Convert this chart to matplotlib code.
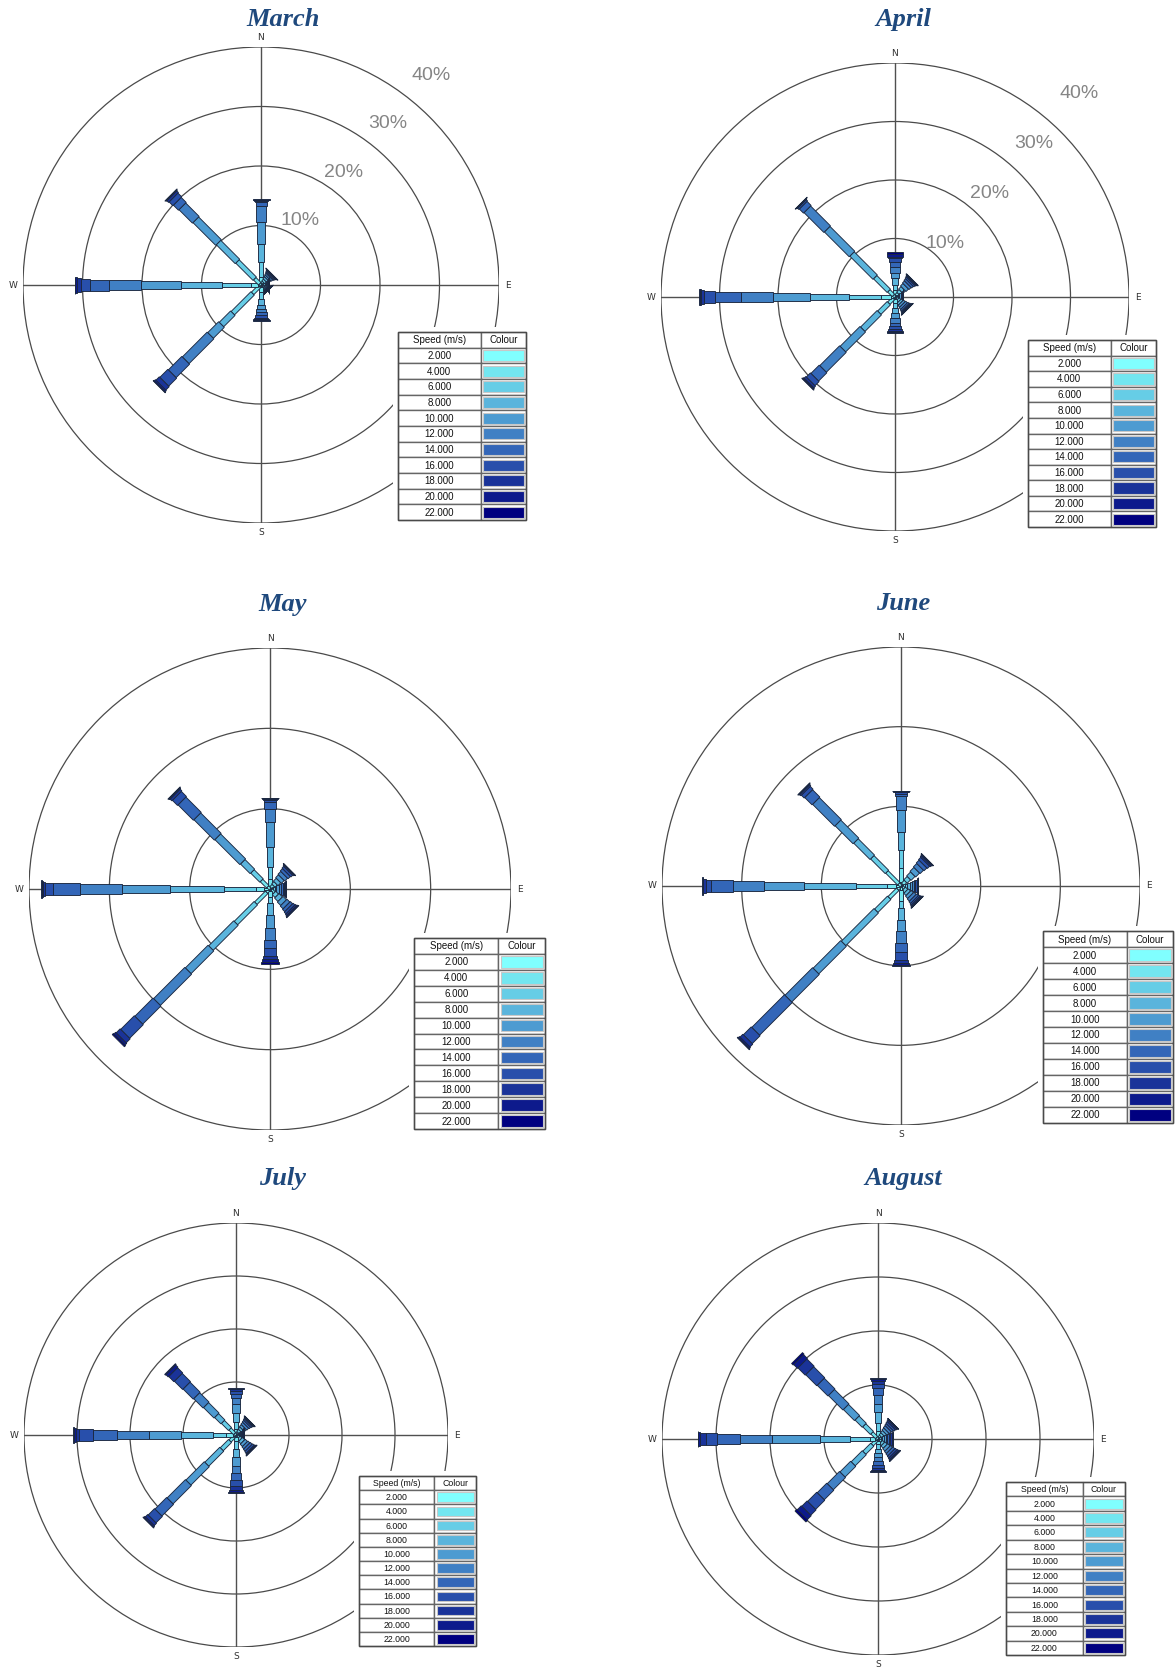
import numpy as np
import matplotlib.pyplot as plt
from matplotlib.patches import Polygon, Rectangle, Circle

FIG_W, FIG_H = 1175, 1668

# compass order used for every month below
DIRECTIONS = ['N', 'NE', 'E', 'SE', 'S', 'SW', 'W', 'NW']
DIR_ANGLES = [90, 45, 0, -45, -90, -135, 180, 135]

SPEED_LABELS = ['2.000', '4.000', '6.000', '8.000', '10.000', '12.000',
                '14.000', '16.000', '18.000', '20.000', '22.000']
COLOURS = ['#80ffff', '#73e6f0', '#66cde6', '#5ab4dc', '#4d9bd1', '#4080c4',
           '#3366b8', '#284fab', '#1a3399', '#0d1a8c', '#000080']

# bar width of each speed class, as a fraction of the outer ring radius
BAR_WIDTH = np.array([2.5, 3.5, 4.8, 6.3, 8, 9.5, 11, 12.5, 14, 15.5, 17]) / 238.0

# cumulative frequency (%) per speed class, one list per direction (N..NW)
march = [
    [0.4, 1.3, 3.8, 6.9, 10.6, 13.2, 13.9, 14.2, 14.3, 14.35, 14.4],
    [0.2, 0.6, 1.0, 1.4, 1.7, 2.0, 2.2, 2.4, 2.5, 2.55, 2.6],
    [0.2, 0.4, 0.6, 0.8, 1.0, 1.1, 1.2, 1.25, 1.3, 1.33, 1.35],
    [0.2, 0.4, 0.6, 0.8, 1.0, 1.15, 1.25, 1.35, 1.4, 1.45, 1.5],
    [0.3, 1.2, 2.4, 3.4, 4.0, 4.6, 5.1, 5.5, 5.75, 5.9, 6.0],
    [0.4, 2.0, 6.7, 9.4, 12.0, 17.9, 21.1, 23.0, 23.8, 24.1, 24.2],
    [0.5, 1.7, 6.5, 13.4, 20.2, 25.6, 28.7, 30.3, 31.0, 31.2, 31.3],
    [0.3, 1.5, 5.6, 10.1, 15.5, 18.7, 19.9, 20.8, 21.2, 21.35, 21.4],
]
april = [
    [0.3, 1.2, 2.1, 3.2, 4.1, 5.2, 6.0, 6.6, 6.9, 7.4, 7.7],
    [0.3, 0.8, 1.4, 2.0, 2.6, 3.1, 3.5, 3.8, 4.0, 4.1, 4.2],
    [0.15, 0.35, 0.55, 0.75, 0.95, 1.1, 1.2, 1.3, 1.35, 1.4, 1.45],
    [0.2, 0.6, 1.0, 1.4, 1.8, 2.2, 2.5, 2.7, 2.85, 2.95, 3.0],
    [0.3, 1.0, 1.8, 2.7, 3.6, 4.4, 5.0, 5.5, 5.8, 6.0, 6.1],
    [0.4, 1.5, 3.8, 7.8, 12.6, 17.4, 19.4, 20.4, 20.8, 21.0, 21.1],
    [0.6, 2.4, 7.8, 14.5, 20.8, 26.4, 30.7, 32.7, 33.2, 33.4, 33.5],
    [0.4, 1.5, 4.8, 10.4, 16.4, 21.2, 22.2, 22.5, 22.6, 22.65, 22.7],
]
may = [
    [0.3, 1.2, 2.7, 5.2, 8.3, 10.0, 10.8, 11.1, 11.2, 11.3, 11.35],
    [0.2, 0.6, 1.0, 1.5, 2.0, 2.5, 2.9, 3.2, 3.35, 3.4, 3.45],
    [0.2, 0.4, 0.6, 0.8, 1.1, 1.4, 1.6, 1.8, 1.9, 1.95, 2.0],
    [0.2, 0.7, 1.2, 1.8, 2.4, 2.9, 3.3, 3.6, 3.8, 3.95, 4.0],
    [0.3, 1.0, 1.7, 3.2, 4.8, 6.4, 7.3, 8.3, 8.75, 9.1, 9.3],
    [0.6, 2.5, 6.0, 10.4, 14.4, 19.9, 23.1, 25.5, 26.2, 26.5, 26.7],
    [0.8, 1.75, 5.7, 12.4, 18.4, 23.6, 27.0, 28.0, 28.3, 28.4, 28.5],
    [0.4, 1.5, 3.1, 4.8, 9.2, 12.8, 15.5, 16.4, 16.7, 16.85, 16.9],
]
june = [
    [0.5, 2.2, 4.5, 6.8, 9.5, 11.3, 11.6, 11.8, 11.85, 11.9, 11.95],
    [0.3, 0.8, 1.4, 2.1, 2.8, 3.4, 3.9, 4.3, 4.5, 4.65, 4.7],
    [0.2, 0.5, 0.8, 1.1, 1.4, 1.6, 1.8, 1.95, 2.05, 2.1, 2.15],
    [0.2, 0.5, 0.9, 1.3, 1.7, 2.1, 2.4, 2.6, 2.75, 2.85, 2.9],
    [0.5, 1.9, 2.8, 4.3, 5.6, 7.2, 8.3, 9.3, 9.7, 9.9, 10.0],
    [0.6, 2.1, 4.4, 10.2, 15.1, 20.0, 25.8, 27.2, 27.7, 27.9, 28.0],
    [0.6, 1.7, 5.6, 12.2, 17.2, 21.1, 23.8, 24.5, 24.8, 24.9, 25.0],
    [0.4, 2.5, 5.1, 8.0, 11.2, 15.1, 16.4, 16.9, 17.1, 17.2, 17.25],
]
july = [
    [0.3, 1.2, 2.5, 4.2, 5.8, 7.0, 7.8, 8.3, 8.6, 8.75, 8.8],
    [0.2, 0.6, 1.1, 1.6, 2.1, 2.6, 3.0, 3.3, 3.5, 3.6, 3.7],
    [0.1, 0.3, 0.5, 0.7, 0.9, 1.1, 1.2, 1.3, 1.4, 1.45, 1.5],
    [0.2, 0.7, 1.2, 1.8, 2.4, 2.9, 3.4, 3.8, 4.0, 4.1, 4.2],
    [0.3, 1.2, 2.6, 4.2, 5.8, 7.2, 8.4, 9.6, 10.4, 10.8, 11.0],
    [0.5, 1.6, 3.8, 7.8, 12.7, 17.6, 20.7, 22.4, 23.0, 23.3, 23.4],
    [0.6, 1.8, 4.3, 10.3, 16.5, 22.4, 26.9, 29.6, 30.2, 30.6, 30.7],
    [0.4, 1.6, 3.5, 5.2, 8.0, 10.5, 13.2, 15.4, 16.8, 17.4, 17.6],
]
august = [
    [0.4, 1.5, 3.0, 5.0, 6.4, 8.1, 9.4, 10.1, 10.8, 11.1, 11.3],
    [0.3, 0.7, 1.2, 1.7, 2.2, 2.7, 3.1, 3.5, 3.8, 3.95, 4.0],
    [0.2, 0.5, 0.8, 1.1, 1.4, 1.7, 2.0, 2.3, 2.5, 2.7, 2.8],
    [0.3, 0.8, 1.3, 1.9, 2.5, 3.0, 3.5, 3.9, 4.2, 4.4, 4.5],
    [0.3, 1.0, 1.8, 2.6, 3.4, 4.1, 4.8, 5.3, 5.7, 6.0, 6.1],
    [0.4, 1.5, 3.6, 6.5, 9.3, 12.5, 15.0, 17.4, 18.8, 19.8, 20.3],
    [0.5, 1.5, 5.2, 10.8, 19.7, 25.6, 29.8, 31.9, 33.0, 33.3, 33.4],
    [0.4, 1.6, 3.6, 5.5, 8.4, 12.2, 15.0, 17.9, 19.8, 20.8, 21.2],
]

MONTHS = ['March', 'April', 'May', 'June', 'July', 'August']
MONTH_DATA = [march, april, may, june, july, august]
RING_MAX = [40, 40, 30, 30, 40, 40]

# layout in pixels: rose centre, outer radius, title spot, legend box
ROSE_CENTRE = [(261, 285), (895, 297), (270, 889), (901, 886), (236, 1435), (878, 1439)]
ROSE_RADIUS = [238, 234, 241, 239, 212, 216]
TITLE_POS = [(283, 19), (903, 19), (283, 604), (903, 604), (283, 1179), (903, 1179)]
TABLE_BOX = [(398, 332, 526, 520), (1028, 340, 1156, 527), (414, 938, 545, 1129),
             (1043, 931, 1173, 1123), (359, 1476, 476, 1646), (1006, 1482, 1125, 1655)]
# where the ring percentages are written (only on the first two roses)
PCT_LABEL = {0: (0.735, -0.8, 0.817, 2.6), 1: (0.76, 1.0, 0.855, 0.6)}


def draw_rose(ax, cum, rmax, pct=None):
    for r in range(10, rmax + 1, 10):
        ax.add_patch(Circle((0, 0), r, fill=False, ec='#4a4a4a', lw=0.9, zorder=1))
    ax.plot([-rmax, rmax], [0, 0], color='#505050', lw=1.0, zorder=1)
    ax.plot([0, 0], [-rmax, rmax], color='#505050', lw=1.0, zorder=1)

    for ang, c in zip(DIR_ANGLES, cum):
        th = np.deg2rad(ang)
        u = np.array([np.cos(th), np.sin(th)])
        n = np.array([-np.sin(th), np.cos(th)])
        prev = 0.0
        for i, r1 in enumerate(c):
            hw = BAR_WIDTH[i] * rmax / 2
            pts = [prev * u + hw * n, r1 * u + hw * n, r1 * u - hw * n, prev * u - hw * n]
            ax.add_patch(Polygon(pts, closed=True, fc=COLOURS[i], ec='#1b2840',
                                 lw=0.65, zorder=3))
            prev = r1

    for lab, xy, off in [('N', (0, rmax), (0, 6.5)), ('S', (0, -rmax), (0, -6.5)),
                         ('E', (rmax, 0), (6.5, 0)), ('W', (-rmax, 0), (-7, 0))]:
        ax.annotate(lab, xy, xytext=off, textcoords='offset points', ha='center',
                    va='center', fontsize=6.5, color='#303030', family='DejaVu Sans')

    if pct is not None:
        ax_, bx, ay, by = pct
        for r in range(10, rmax + 1, 10):
            ax.text(ax_ * r + bx, ay * r + by, f'{r}%', ha='center', va='center',
                    fontsize=14, color='#858585', family='Liberation Sans', zorder=4)

    ax.set_xlim(-rmax, rmax)
    ax.set_ylim(-rmax, rmax)
    ax.axis('off')


def draw_table(ax, box, fs):
    x0, y0, x1, y1 = box
    ax.add_patch(Rectangle((x0 - 5, y0 - 5), x1 - x0 + 10, y1 - y0 + 10,
                           fc='white', ec='none', zorder=1))
    split = x0 + 0.645 * (x1 - x0)
    h = (y1 - y0) / 12.0
    rows = [('Speed (m/s)', None)] + list(zip(SPEED_LABELS, COLOURS))
    for k, (txt, col) in enumerate(rows):
        top = y0 + k * h
        ax.add_patch(Rectangle((x0, top), split - x0, h, fc='white', ec='#666666',
                               lw=1.0, zorder=2))
        ax.add_patch(Rectangle((split, top), x1 - split, h, fc='white', ec='#666666',
                               lw=1.0, zorder=2))
        ax.text((x0 + split) / 2, top + h / 2 + 0.5, txt, ha='center', va='center',
                fontsize=fs, color='#111111', family='Liberation Sans', zorder=4)
        if col is None:
            ax.text((split + x1) / 2, top + h / 2 + 0.5, 'Colour', ha='center',
                    va='center', fontsize=fs, color='#111111',
                    family='Liberation Sans', zorder=4)
        else:
            ax.add_patch(Rectangle((split + 2.5, top + 2.2), x1 - split - 5, h - 4.4,
                                   fc=col, ec='#c8c8c8', lw=0.8, zorder=3))
    ax.add_patch(Rectangle((x0, y0), x1 - x0, y1 - y0, fill=False, ec='#4a4a4a',
                           lw=1.0, zorder=5))


fig = plt.figure(figsize=(FIG_W / 100, FIG_H / 100), dpi=100)

for k in range(len(MONTHS)):
    cx, cy = ROSE_CENTRE[k]
    R = ROSE_RADIUS[k]
    ax = fig.add_axes([(cx - R) / FIG_W, 1 - (cy + R) / FIG_H, 2 * R / FIG_W, 2 * R / FIG_H])
    draw_rose(ax, MONTH_DATA[k], RING_MAX[k], PCT_LABEL.get(k))

# titles and speed tables sit on a full-figure layer in pixel units
top = fig.add_axes([0, 0, 1, 1], zorder=10)
top.set_xlim(0, FIG_W)
top.set_ylim(FIG_H, 0)
top.axis('off')
top.patch.set_alpha(0)

for k, name in enumerate(MONTHS):
    tx, ty = TITLE_POS[k]
    top.text(tx, ty, name, ha='center', va='center', fontsize=19, fontweight='bold',
             fontstyle='italic', family='Liberation Serif', color='#1f497d')
    draw_table(top, TABLE_BOX[k], 7 if k < 4 else 6.3)

fig.savefig('out.png', dpi=100, facecolor='white')
